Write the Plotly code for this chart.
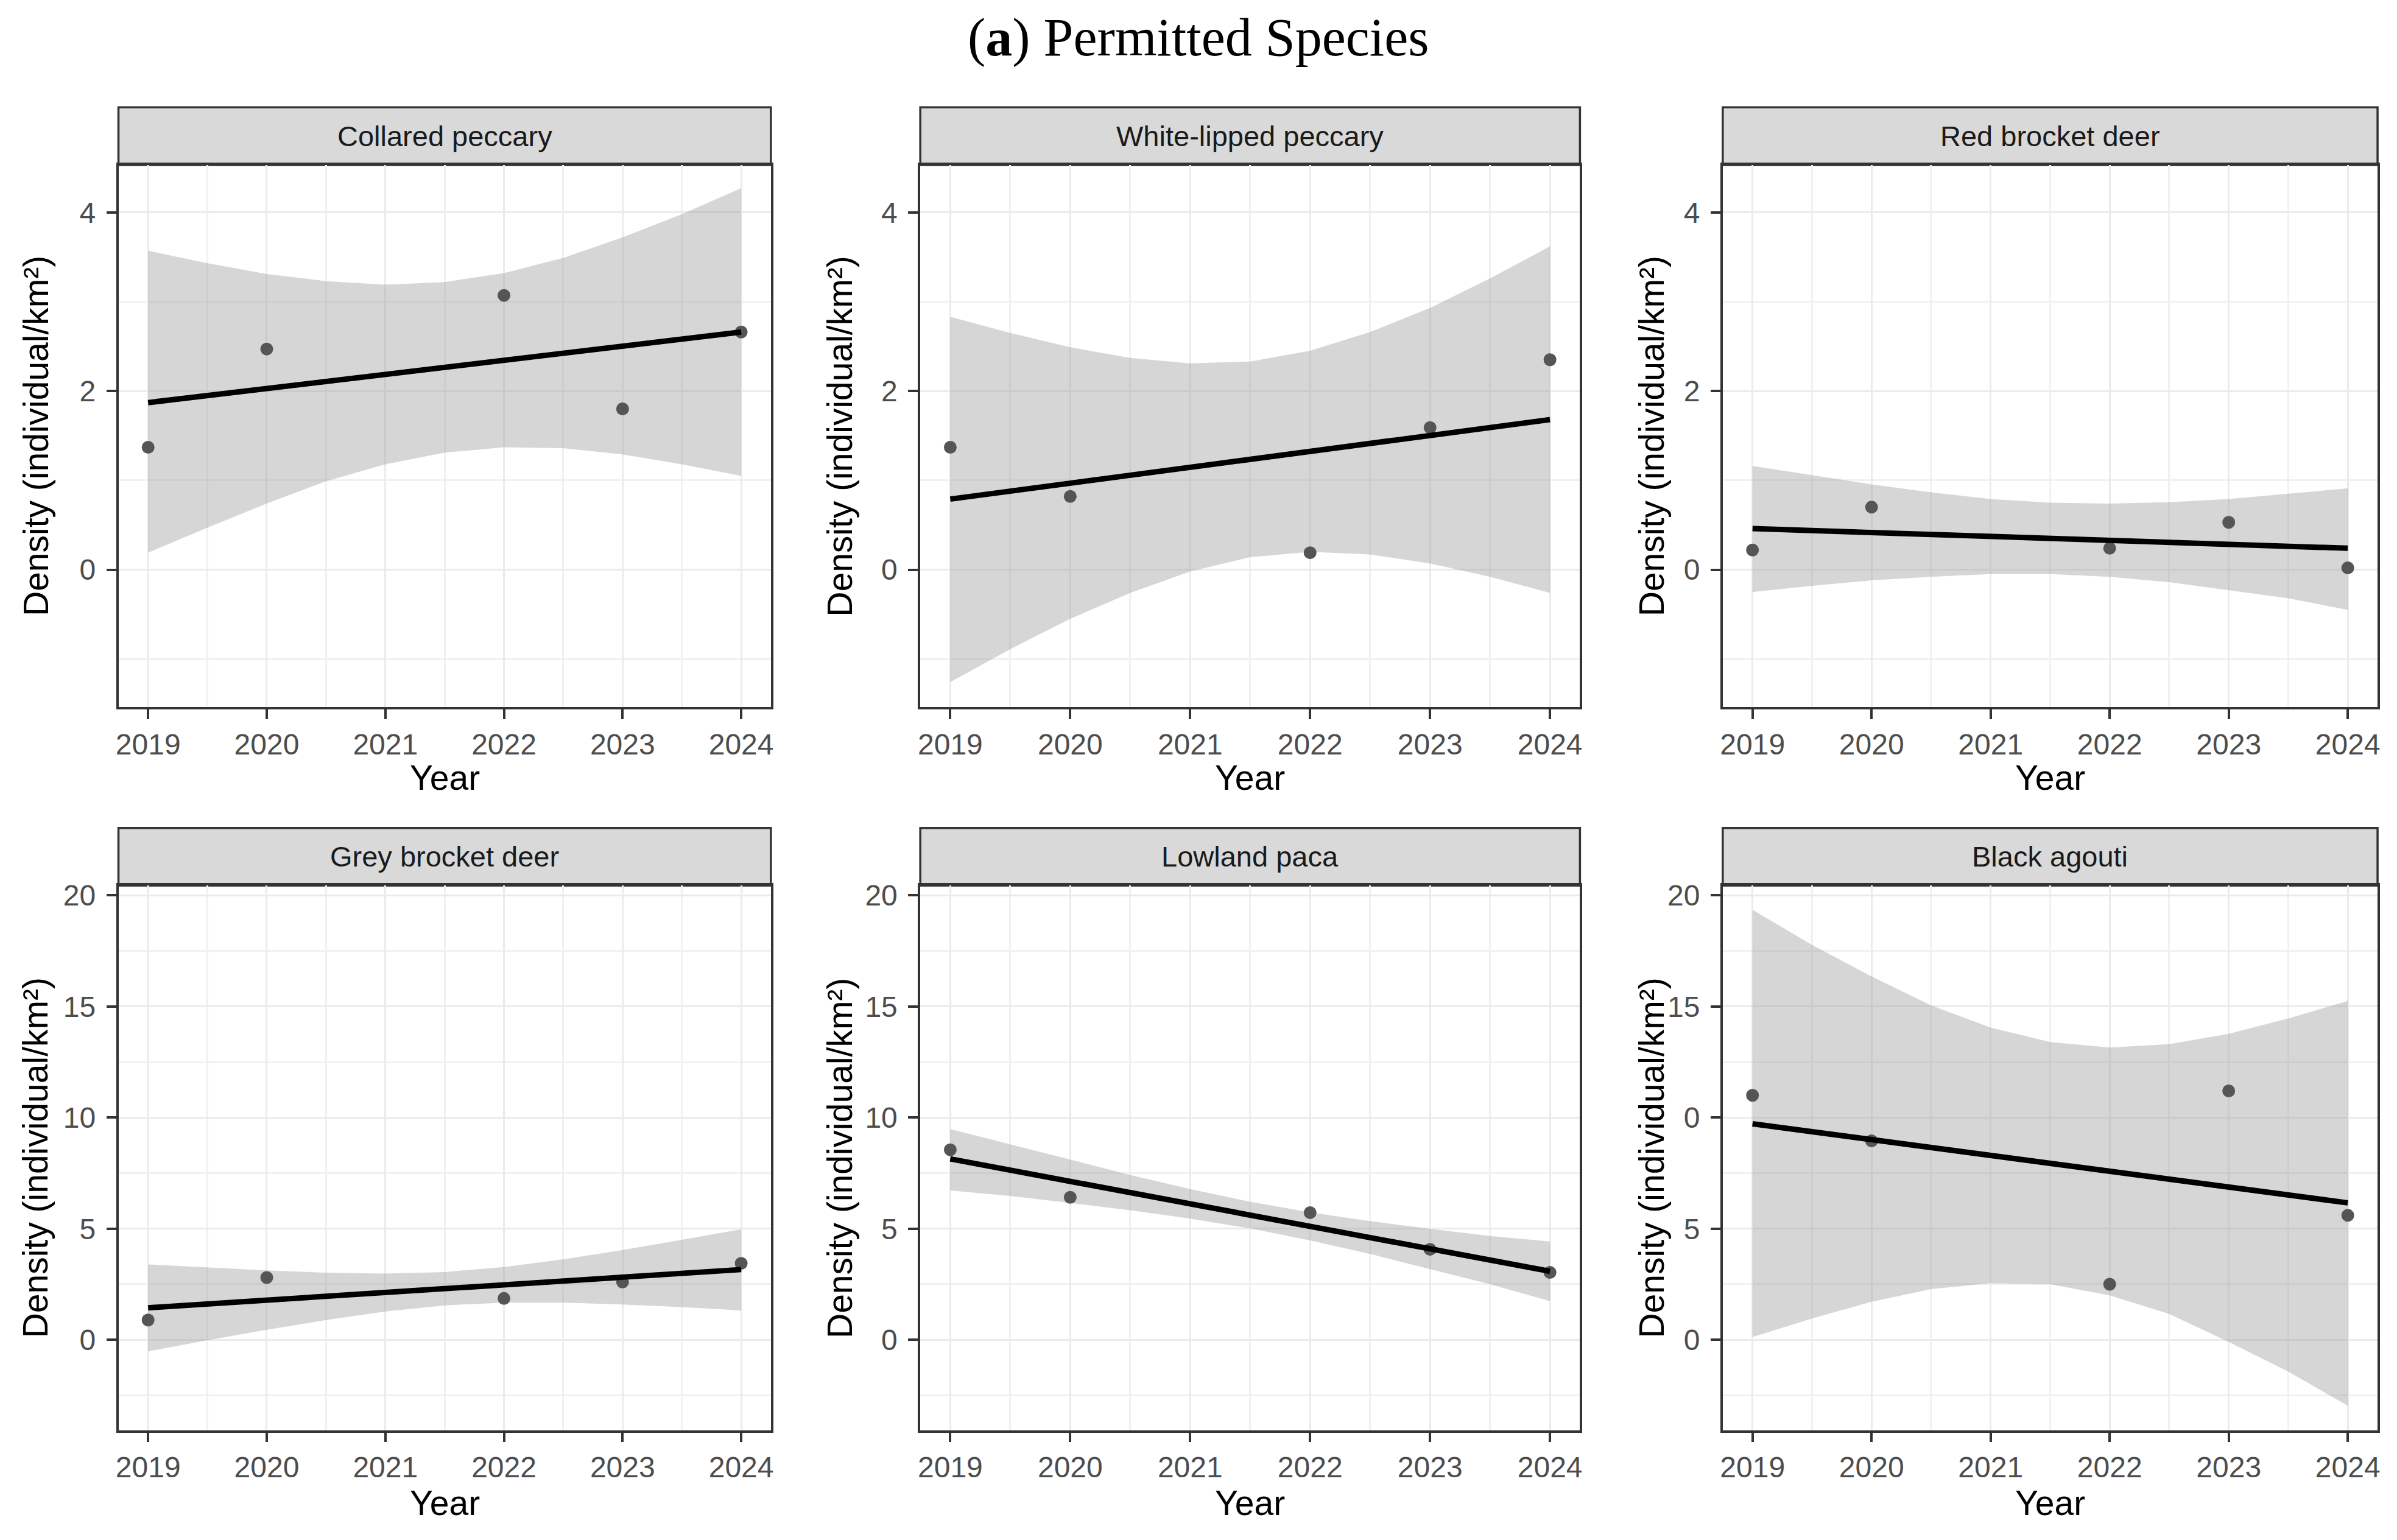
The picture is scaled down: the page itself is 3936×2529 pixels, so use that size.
import plotly.graph_objects as go

# ---- data ----
SPECIES = ["Collared peccary", "White-lipped peccary", "Red brocket deer",
           "Grey brocket deer", "Lowland paca", "Black agouti"]
YEARS = [2019, 2020, 2022, 2023, 2024]

collared_pts = [1.37, 2.47, 3.07, 1.80, 2.66]
whitelipped_pts = [1.37, 0.82, 0.19, 1.59, 2.35]
redbrocket_pts = [0.22, 0.70, 0.24, 0.53, 0.02]
greybrocket_pts = [0.89, 2.80, 1.86, 2.60, 3.44]
paca_pts = [8.55, 6.41, 5.72, 4.07, 3.03]
agouti_pts = [11.0, 8.95, 2.50, 11.2, 5.60]

# fitted line end points (2019, 2024)
FIT_X = [2019, 2024]
collared_fit = [1.87, 2.66]
whitelipped_fit = [0.79, 1.68]
redbrocket_fit = [0.46, 0.24]
greybrocket_fit = [1.44, 3.16]
paca_fit = [8.14, 3.08]
agouti_fit = [9.72, 6.16]

# confidence ribbon, read at half-year steps
BAND_X = [2019, 2019.5, 2020, 2020.5, 2021, 2021.5, 2022, 2022.5, 2023, 2023.5, 2024]
collared_hi = [3.57, 3.43, 3.31, 3.23, 3.19, 3.22, 3.32, 3.49, 3.72, 3.98, 4.27]
collared_lo = [0.19, 0.47, 0.74, 0.99, 1.18, 1.31, 1.37, 1.36, 1.29, 1.18, 1.05]
whitelipped_hi = [2.83, 2.65, 2.49, 2.37, 2.31, 2.33, 2.45, 2.66, 2.93, 3.26, 3.62]
whitelipped_lo = [-1.26, -0.89, -0.55, -0.26, -0.02, 0.14, 0.20, 0.17, 0.07, -0.08, -0.26]
redbrocket_hi = [1.16, 1.06, 0.955, 0.865, 0.79, 0.75, 0.74, 0.755, 0.79, 0.85, 0.91]
redbrocket_lo = [-0.25, -0.18, -0.12, -0.08, -0.05, -0.05, -0.08, -0.14, -0.23, -0.32, -0.45]
greybrocket_hi = [3.39, 3.25, 3.12, 3.02, 2.98, 3.05, 3.27, 3.62, 4.04, 4.50, 4.97]
greybrocket_lo = [-0.52, -0.02, 0.45, 0.89, 1.27, 1.55, 1.67, 1.67, 1.59, 1.47, 1.32]
paca_hi = [9.48, 8.80, 8.10, 7.42, 6.78, 6.21, 5.73, 5.34, 4.99, 4.67, 4.42]
paca_lo = [6.72, 6.47, 6.16, 5.83, 5.45, 5.01, 4.47, 3.86, 3.19, 2.50, 1.74]
agouti_hi = [19.35, 17.77, 16.35, 15.05, 14.05, 13.40, 13.15, 13.30, 13.77, 14.46, 15.25]
agouti_lo = [0.12, 0.96, 1.71, 2.28, 2.55, 2.50, 2.00, 1.16, -0.10, -1.43, -2.97]

PTS = [collared_pts, whitelipped_pts, redbrocket_pts, greybrocket_pts, paca_pts, agouti_pts]
FITS = [collared_fit, whitelipped_fit, redbrocket_fit, greybrocket_fit, paca_fit, agouti_fit]
HIS = [collared_hi, whitelipped_hi, redbrocket_hi, greybrocket_hi, paca_hi, agouti_hi]
LOS = [collared_lo, whitelipped_lo, redbrocket_lo, greybrocket_lo, paca_lo, agouti_lo]

X_TICKS = [2019, 2020, 2021, 2022, 2023, 2024]
Y_TICKS_TOP = [0, 2, 4]
Y_TICKS_BOT = [0, 5, 10, 15, 20]
# the agouti panel's labels are printed this way in the source figure
AGOUTI_TICKTEXT = ["0", "5", "0", "15", "20"]

# ---- layout geometry (pixels of a 3936 x 2529 canvas) ----
W, H = 3936, 2529
COLS = [(190, 1264), (1510, 2596), (2831, 3909)]
ROWS = [dict(strip=(167, 262), bottom=1156, yr=[-1.54, 4.53], ticks=Y_TICKS_TOP, minor=1),
        dict(strip=(1355, 1450), bottom=2348, yr=[-4.07, 20.44], ticks=Y_TICKS_BOT, minor=2.5)]
YTITLE_X = [54, 1378, 2714]
XTITLE_Y = [1272, 2468]

SANS = "Liberation Sans, Arial, sans-serif"
DARK = "#333333"
GRID = "#ebebeb"
px = lambda v: v / W
py = lambda v: 1 - v / H


def label(text, x, y, size, color="black", family=SANS, angle=0):
    return dict(text=text, xref="paper", yref="paper", x=x, y=y, xanchor="center", yanchor="middle",
                showarrow=False, textangle=angle, font=dict(family=family, size=size, color=color))


fig = go.Figure()
shapes, annos = [], []
for i, name in enumerate(SPECIES):
    r, c = divmod(i, 3)
    row, (xl, xr) = ROWS[r], COLS[c]
    k = "" if i == 0 else str(i + 1)
    xa, ya = "x" + k, "y" + k

    fig.add_trace(go.Scatter(x=BAND_X + BAND_X[::-1], y=HIS[i] + LOS[i][::-1], fill="toself",
                             fillcolor="rgba(153,153,153,0.4)", line=dict(width=0),
                             mode="lines", hoverinfo="skip", xaxis=xa, yaxis=ya, showlegend=False))
    fig.add_trace(go.Scatter(x=YEARS, y=PTS[i], mode="markers",
                             marker=dict(size=21, color="#555555"),
                             xaxis=xa, yaxis=ya, showlegend=False))
    fig.add_trace(go.Scatter(x=FIT_X, y=FITS[i], mode="lines", line=dict(color="black", width=9),
                             xaxis=xa, yaxis=ya, showlegend=False))

    ax = dict(showline=True, mirror=True, linecolor=DARK, linewidth=3.5,
              ticks="outside", ticklen=16, tickwidth=3.5, tickcolor=DARK,
              tickfont=dict(family=SANS, size=48, color="#4d4d4d"),
              showgrid=True, gridcolor=GRID, gridwidth=3, zeroline=False)
    fig.layout["xaxis" + k] = dict(ax, domain=[px(xl), px(xr)], anchor=ya, range=[2018.75, 2024.25],
                                    tickvals=X_TICKS,
                                    minor=dict(dtick=0.5, tick0=2019, showgrid=True, gridcolor="#f1f1f1",
                                               gridwidth=2.5, ticklen=0))
    ytick = dict(tickvals=row["ticks"])
    if name == "Black agouti":
        ytick["ticktext"] = AGOUTI_TICKTEXT
    fig.layout["yaxis" + k] = dict(ax, domain=[py(row["bottom"]), py(row["strip"][1])], anchor=xa,
                                    range=row["yr"], ticklabelstandoff=8,
                                    minor=dict(dtick=row["minor"], tick0=0, showgrid=True, gridcolor="#f1f1f1",
                                               gridwidth=2.5, ticklen=0), **ytick)

    # facet strip
    shapes.append(dict(type="rect", xref="paper", yref="paper", x0=px(xl), x1=px(xr),
                       y0=py(row["strip"][1]), y1=py(row["strip"][0]),
                       fillcolor="#d9d9d9", line=dict(color=DARK, width=3.5), layer="below"))
    annos.append(label(name, px((xl + xr) / 2), py(sum(row["strip"]) / 2), 47, "#1a1a1a"))
    annos.append(label("Density (individual/km²)", px(YTITLE_X[c]),
                       py((row["strip"][1] + row["bottom"]) / 2), 57, angle=-90))
    annos.append(label("Year", px((xl + xr) / 2), py(XTITLE_Y[r]), 57))

annos.append(label("(<b>a</b>) Permitted Species", 0.5, py(52), 88,
                   family="Liberation Serif, DejaVu Serif, serif"))

fig.update_layout(width=W, height=H, margin=dict(l=0, r=0, t=0, b=0),
                  paper_bgcolor="white", plot_bgcolor="white",
                  shapes=shapes, annotations=annos)
fig.write_html("out.html", config={"displayModeBar": False},
               post_script="document.body.style.margin='0';")
